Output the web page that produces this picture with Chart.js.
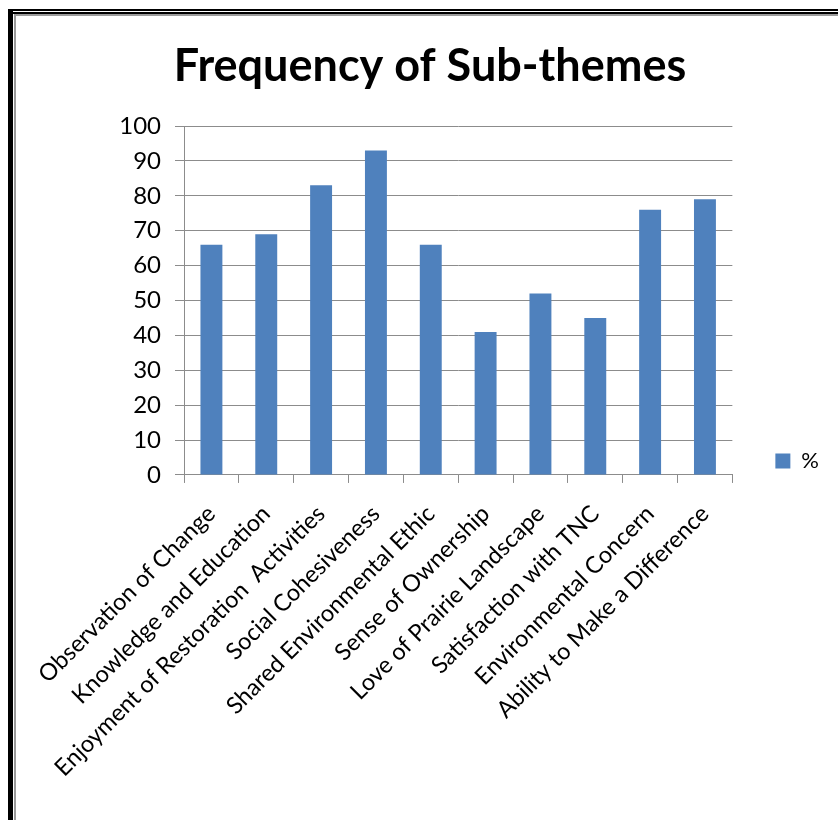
<!DOCTYPE html>
<html><head><meta charset="utf-8">
<script src="https://cdn.jsdelivr.net/npm/chart.js@4.4.1/dist/chart.umd.min.js"></script>
<style>
html,body{margin:0;padding:0;background:#fff;}
#wrap{position:relative;width:838px;height:820px;overflow:hidden;}
canvas{position:absolute;left:0;top:0;}
.f{position:absolute;}
</style></head><body>
<div id="wrap">
<canvas id="c" width="838" height="820"></canvas>
<div class="f" style="left:8px;top:9px;right:0;height:2px;background:#000"></div>
<div class="f" style="left:8px;top:12px;right:0;height:2px;background:#000"></div>
<div class="f" style="left:8px;top:9px;width:5px;bottom:0;background:#000"></div>
<div class="f" style="left:14px;top:14px;right:0;height:2px;background:#9a9a9a"></div>
<div class="f" style="left:14px;top:14px;width:2px;bottom:0;background:#9a9a9a"></div>
</div>
<script>
const chartTitle = 'Frequency of Sub-themes';
const categories = [
  'Observation of Change',
  'Knowledge and Education',
  'Enjoyment of Restoration  Activities',
  'Social Cohesiveness',
  'Shared Environmental Ethic',
  'Sense of Ownership',
  'Love of Prairie Landscape',
  'Satisfaction with TNC',
  'Environmental Concern',
  'Ability to Make a Difference'
];
const seriesName = '%';
const seriesValues = [66, 69, 83, 93, 66, 41, 52, 45, 76, 79];
const yMin = 0, yMax = 100, yStep = 10;

const FONT = 'Lato, "Open Sans", sans-serif';
const gridColor = '#8c8c8c';

// shifts the legend box within the free space to the right of the plot
const legendNudge = {
  id: 'legendNudge',
  afterLayout(chart, args, opts) {
    const l = chart.legend;
    if (!l) return;
    l.left += opts.dx; l.right += opts.dx;
    l.top += opts.dy; l.bottom += opts.dy;
  }
};

new Chart(document.getElementById('c'), {
  type: 'bar',
  plugins: [legendNudge],
  data: {
    labels: categories,
    datasets: [{
      label: seriesName,
      data: seriesValues,
      backgroundColor: '#4F81BD',
      borderWidth: 0,
      barPercentage: 0.8,
      categoryPercentage: 0.5
    }]
  },
  options: {
    responsive: false,
    animation: false,
    layout: { padding: { left: 64, right: 42, top: 0, bottom: 21 } },
    plugins: {
      legendNudge: { dx: 33, dy: 7 },
      title: {
        display: true,
        text: chartTitle,
        color: '#000',
        font: { family: FONT, size: 45, weight: 'bold' },
        padding: { top: 39, bottom: 33 }
      },
      legend: {
        display: true,
        position: 'right',
        align: 'end',
        fullSize: false,
        labels: {
          color: '#000',
          font: { family: FONT, size: 22 },
          boxWidth: 15,
          boxHeight: 15,
          padding: 10
        }
      },
      tooltip: { enabled: false }
    },
    scales: {
      x: {
        grid: { offset: true, drawOnChartArea: false, drawTicks: true, tickLength: 8, color: gridColor },
        border: { color: gridColor, width: 1 },
        ticks: { autoSkip: false, minRotation: 45, maxRotation: 45, color: '#000', font: { family: FONT, size: 23.5 }, padding: 17 }
      },
      y: {
        min: yMin, max: yMax,
        ticks: { stepSize: yStep, color: '#000', font: { family: FONT, size: 24 }, padding: 14 },
        grid: { color: gridColor, tickLength: 9 },
        border: { color: gridColor, width: 1 },
        afterFit: s => { s.width = 120; }
      }
    }
  }
});
</script>
</body></html>
